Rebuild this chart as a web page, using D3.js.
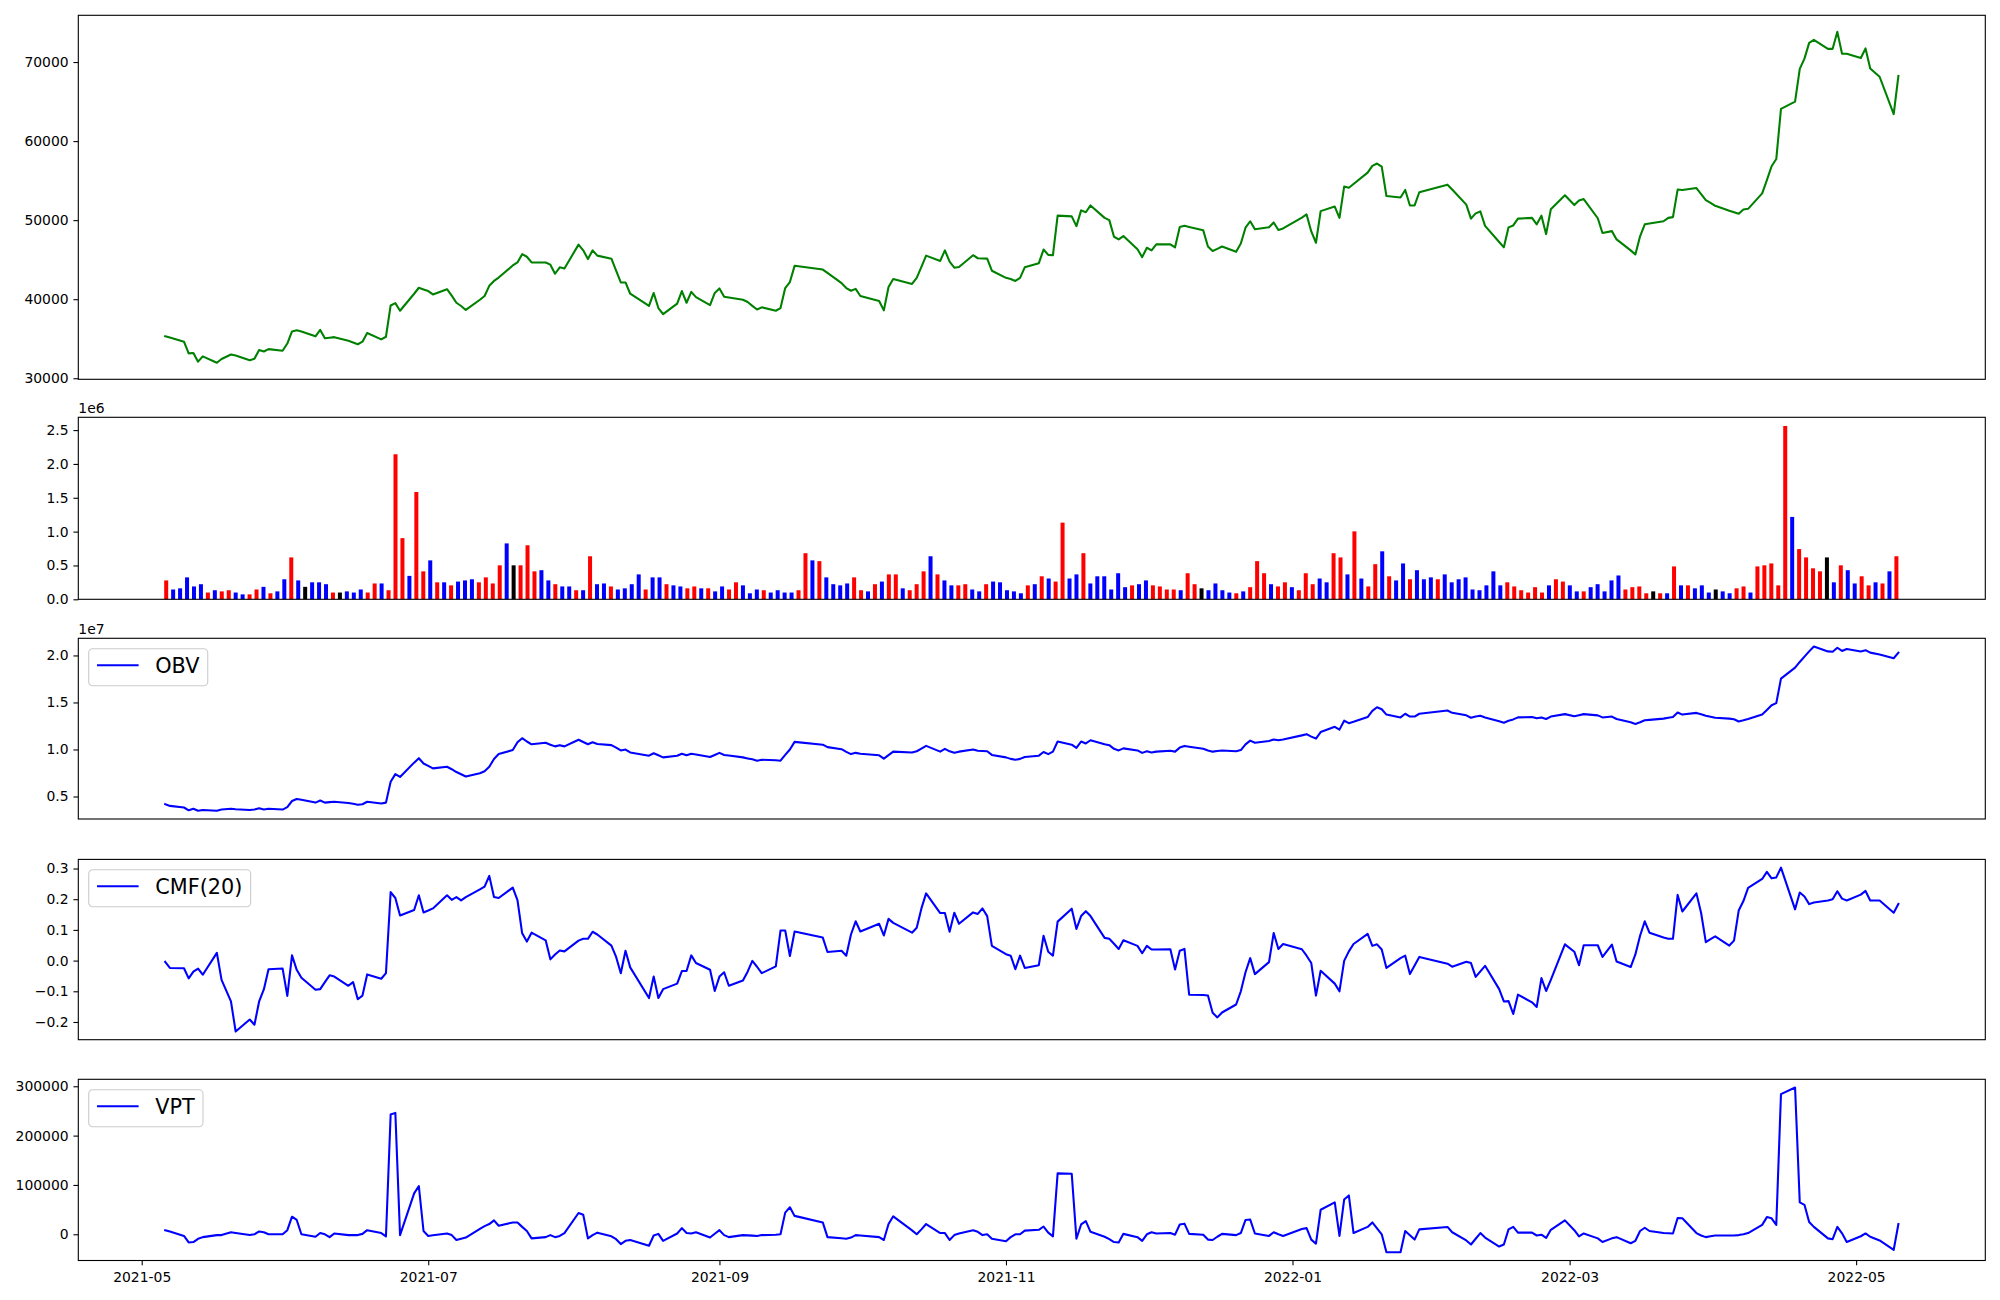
<!DOCTYPE html>
<html><head><meta charset="utf-8">
<script src="https://cdn.jsdelivr.net/npm/d3@7"></script>
<style>
body{margin:0;background:#fff}
svg{display:block}
text{font-family:"DejaVu Sans",sans-serif}
</style>
</head><body>
<svg id="chart" width="2000" height="1300"></svg>
<script>
// ---------------- DATA ----------------
const dates = [
"2021-05-06","2021-05-07","2021-05-10","2021-05-11","2021-05-12","2021-05-13","2021-05-14","2021-05-17","2021-05-18","2021-05-20","2021-05-21","2021-05-24","2021-05-25","2021-05-26","2021-05-27","2021-05-28","2021-05-31",
"2021-06-01","2021-06-02","2021-06-03","2021-06-04","2021-06-07","2021-06-08","2021-06-09","2021-06-10","2021-06-11","2021-06-14","2021-06-15","2021-06-16","2021-06-17","2021-06-18","2021-06-21","2021-06-22","2021-06-23","2021-06-24","2021-06-25","2021-06-28","2021-06-29","2021-06-30",
"2021-07-01","2021-07-02","2021-07-05","2021-07-06","2021-07-07","2021-07-08","2021-07-09","2021-07-12","2021-07-13","2021-07-14","2021-07-15","2021-07-16","2021-07-19","2021-07-20","2021-07-21","2021-07-22","2021-07-23","2021-07-26","2021-07-27","2021-07-28","2021-07-29","2021-07-30",
"2021-08-02","2021-08-03","2021-08-04","2021-08-05","2021-08-06","2021-08-09","2021-08-10","2021-08-11","2021-08-12","2021-08-13","2021-08-17","2021-08-18","2021-08-19","2021-08-20","2021-08-23","2021-08-24","2021-08-25","2021-08-26","2021-08-27","2021-08-30","2021-08-31",
"2021-09-01","2021-09-02","2021-09-03","2021-09-06","2021-09-07","2021-09-08","2021-09-09","2021-09-10","2021-09-13","2021-09-14","2021-09-15","2021-09-16","2021-09-17","2021-09-23","2021-09-24","2021-09-27","2021-09-28","2021-09-29","2021-09-30",
"2021-10-01","2021-10-05","2021-10-06","2021-10-07","2021-10-08","2021-10-12","2021-10-13","2021-10-14","2021-10-15","2021-10-18","2021-10-19","2021-10-20","2021-10-21","2021-10-22","2021-10-25","2021-10-26","2021-10-27","2021-10-28","2021-10-29",
"2021-11-01","2021-11-02","2021-11-03","2021-11-04","2021-11-05","2021-11-08","2021-11-09","2021-11-10","2021-11-11","2021-11-12","2021-11-15","2021-11-16","2021-11-17","2021-11-18","2021-11-19","2021-11-22","2021-11-23","2021-11-24","2021-11-25","2021-11-26","2021-11-29","2021-11-30",
"2021-12-01","2021-12-02","2021-12-03","2021-12-06","2021-12-07","2021-12-08","2021-12-09","2021-12-10","2021-12-13","2021-12-14","2021-12-15","2021-12-16","2021-12-17","2021-12-20","2021-12-21","2021-12-22","2021-12-23","2021-12-24","2021-12-27","2021-12-28","2021-12-29","2021-12-30",
"2022-01-03","2022-01-04","2022-01-05","2022-01-06","2022-01-07","2022-01-10","2022-01-11","2022-01-12","2022-01-13","2022-01-14","2022-01-17","2022-01-18","2022-01-19","2022-01-20","2022-01-21","2022-01-24","2022-01-25","2022-01-26","2022-01-27","2022-01-28",
"2022-02-03","2022-02-04","2022-02-07","2022-02-08","2022-02-09","2022-02-10","2022-02-11","2022-02-14","2022-02-15","2022-02-16","2022-02-17","2022-02-18","2022-02-21","2022-02-22","2022-02-23","2022-02-24","2022-02-25","2022-02-28",
"2022-03-02","2022-03-03","2022-03-04","2022-03-07","2022-03-08","2022-03-10","2022-03-11","2022-03-14","2022-03-15","2022-03-16","2022-03-17","2022-03-18","2022-03-21","2022-03-22","2022-03-23","2022-03-24","2022-03-25","2022-03-28","2022-03-29","2022-03-30","2022-03-31",
"2022-04-01","2022-04-04","2022-04-05","2022-04-06","2022-04-07","2022-04-08","2022-04-11","2022-04-12","2022-04-13","2022-04-14","2022-04-15","2022-04-18","2022-04-19","2022-04-20","2022-04-21","2022-04-22","2022-04-25","2022-04-26","2022-04-27","2022-04-28","2022-04-29",
"2022-05-02","2022-05-03","2022-05-04","2022-05-06","2022-05-09","2022-05-10"
];

const close = [
35300,35150,34630,33150,33200,32100,32770,31960,32430,33010,32870,32290,32480,33580,33390,33680,33480,
34390,35920,36060,35920,35300,36110,35060,35130,35200,34730,34530,34300,34630,35730,34920,35250,39210,39500,38540,40690,41450,41240,
41030,40600,41260,40450,39550,39140,38640,39930,40410,41690,42310,42740,44270,44650,45700,45370,44650,44650,44370,43220,44030,43890,
46900,46180,45080,46180,45510,45130,43600,42120,42120,40690,39160,40790,38880,38110,39450,41030,39550,40930,40260,39260,40790,
41360,40310,40210,39930,39640,39160,38690,38970,38540,38880,41410,42170,44220,43750,43320,42030,41410,41070,41310,
40410,39780,38590,41550,42550,41930,42700,44080,45510,44840,46180,44750,43990,44080,45560,45180,45150,45130,43600,
42700,42550,42310,42700,44030,44560,46280,45610,45560,50570,50480,49240,51240,51000,51860,50290,50000,47900,47570,47990,46320,45320,
46510,46180,46940,46940,46560,49140,49280,49140,48710,46660,46090,46370,46660,45990,47040,49040,49860,48850,49090,49710,48760,48950,
50330,50720,48570,47140,51140,51720,50290,54250,54100,54580,56010,56870,57160,56780,53050,52860,53820,51860,51860,53530,
54490,53880,51960,50190,50860,51100,49280,47230,46560,49090,49330,50190,50290,49470,50570,48230,51380,53150,
51910,52480,52670,50240,48380,48610,47560,46180,45660,47950,49470,49570,49860,50290,50380,53870,53820,54060,53290,52530,52190,
51810,51190,51000,50810,51340,51430,53390,55060,56820,57730,64080,64990,69140,70430,72430,72810,71670,71670,73820,71050,71050,
70520,71720,69190,68140,63410,68240
];

const volume = [
279000,145000,162000,324000,190000,223000,100000,134000,117000,134000,100000,73000,73000,145000,184000,89000,117000,296000,619000,279000,
184000,251000,251000,223000,100000,100000,117000,100000,145000,100000,234000,234000,134000,2143000,904000,346000,1585000,413000,575000,251000,
251000,206000,262000,279000,296000,251000,324000,234000,502000,826000,502000,502000,798000,413000,430000,279000,
223000,190000,190000,134000,134000,636000,223000,234000,190000,145000,162000,223000,368000,145000,324000,324000,223000,206000,190000,162000,
190000,162000,162000,117000,190000,145000,251000,206000,89000,145000,134000,100000,134000,100000,100000,134000,681000,575000,564000,324000,
223000,206000,234000,324000,134000,117000,223000,262000,368000,368000,162000,134000,223000,413000,636000,368000,279000,206000,206000,223000,
145000,117000,223000,262000,251000,134000,117000,89000,206000,223000,340000,307000,
262000,1133000,307000,368000,681000,234000,340000,340000,145000,385000,179000,206000,223000,279000,206000,190000,145000,145000,134000,385000,
223000,162000,134000,234000,134000,100000,89000,117000,179000,564000,385000,223000,190000,251000,179000,134000,385000,223000,307000,251000,
681000,619000,368000,1004000,307000,190000,519000,709000,340000,279000,530000,296000,430000,296000,324000,296000,368000,251000,296000,324000,
145000,134000,206000,413000,206000,251000,190000,134000,100000,
179000,100000,206000,296000,262000,206000,117000,117000,179000,223000,117000,279000,352000,145000,179000,190000,89000,117000,89000,89000,
486000,206000,206000,162000,206000,100000,145000,117000,89000,162000,190000,100000,486000,502000,530000,206000,2561000,1217000,742000,619000,
458000,413000,619000,251000,502000,430000,234000,340000,206000,251000,234000,413000,636000
];

// 1 = up day (red), -1 = down day (blue), 0 = unchanged (black)
const direction = [
1,-1,-1,-1,-1,-1,1,-1,1,1,-1,-1,1,1,-1,1,-1,-1,1,-1,
0,-1,-1,-1,1,0,-1,-1,-1,1,1,-1,1,1,1,-1,1,1,-1,1,
-1,1,-1,-1,-1,1,1,1,1,-1,0,1,1,1,-1,-1,
1,-1,-1,1,-1,1,-1,-1,1,-1,-1,-1,-1,1,-1,-1,1,-1,-1,1,
1,-1,1,-1,-1,1,1,-1,-1,-1,1,-1,-1,-1,-1,1,1,-1,1,-1,
-1,-1,-1,1,1,-1,1,-1,1,1,-1,1,1,1,-1,1,-1,-1,1,1,
-1,-1,1,-1,-1,-1,-1,-1,1,-1,1,-1,
1,1,-1,-1,1,-1,-1,-1,-1,-1,-1,1,-1,-1,1,1,1,1,-1,1,
1,0,-1,-1,-1,-1,1,-1,1,1,1,-1,1,1,-1,1,1,1,-1,-1,
1,1,-1,1,-1,1,1,-1,1,-1,-1,1,-1,-1,-1,1,-1,-1,-1,-1,
-1,-1,-1,-1,-1,1,1,1,1,
1,1,-1,1,1,-1,-1,1,-1,-1,-1,-1,-1,1,1,1,1,0,1,-1,
1,-1,1,-1,-1,-1,0,-1,-1,1,1,-1,1,1,1,1,1,-1,1,1,
1,1,0,-1,1,-1,-1,1,1,-1,1,-1,1
];

const obv = [
4180000,4000000,3830000,3530000,3700000,3480000,3570000,3480000,3610000,3700000,3650000,3570000,3610000,3740000,3610000,3700000,3610000,3870000,4520000,4740000,
4660000,4350000,4570000,4350000,4400000,4440000,4310000,4220000,4130000,4180000,4440000,4260000,4350000,6560000,7380000,7080000,8600000,9070000,8510000,8250000,
7990000,8160000,7900000,7600000,7360000,7120000,7470000,7690000,8160000,8990000,9510000,9940000,10770000,11200000,10850000,10550000,10720000,10510000,10330000,10460000,10330000,
11030000,10790000,10550000,10770000,10590000,10460000,10200000,9900000,9990000,9680000,9340000,9600000,9380000,9160000,9340000,9550000,9380000,9550000,9470000,9200000,
9420000,9640000,9420000,9360000,9160000,9050000,8950000,8810000,8900000,8850000,8810000,9420000,10000000,10810000,10510000,10250000,10030000,9750000,9510000,9640000,
9550000,9380000,9030000,9400000,9770000,9680000,9810000,10100000,10380000,9770000,10070000,9800000,9640000,9770000,9990000,9860000,9840000,9810000,9420000,9160000,
9000000,8900000,9000000,9200000,9340000,9730000,9510000,
9770000,10850000,10510000,10160000,10850000,10640000,10980000,10550000,10460000,10070000,9900000,10120000,9900000,9640000,9810000,9680000,9770000,9860000,9770000,10200000,
10380000,10300000,10070000,9900000,9770000,9840000,9900000,9810000,9940000,10550000,10940000,10720000,10900000,11070000,10980000,11070000,11500000,11630000,11370000,11160000,
11850000,12410000,12110000,13060000,12800000,12950000,13450000,14100000,14490000,14280000,13710000,13410000,13800000,13500000,13500000,13800000,14150000,13900000,13630000,13370000,
13500000,13580000,13400000,13000000,12850000,13060000,13200000,13410000,13450000,
13320000,13410000,13240000,13500000,13760000,13540000,13650000,13760000,13630000,13410000,13500000,13240000,12900000,12720000,12900000,13110000,13150000,13280000,13370000,13450000,
13930000,13710000,13890000,13750000,13580000,13480000,13370000,13280000,13220000,12980000,13100000,13240000,13710000,14200000,14710000,14930000,17530000,18700000,19310000,19870000,
20430000,20950000,20430000,20390000,20820000,20480000,20690000,20430000,20560000,20300000,20090000,19700000,20300000
];

const cmf = [
-0.004,-0.024,-0.025,-0.058,-0.036,-0.026,-0.046,0.025,-0.063,-0.133,-0.231,-0.192,-0.209,-0.133,-0.094,-0.028,-0.026,-0.115,0.017,-0.030,
-0.056,-0.095,-0.093,-0.070,-0.048,-0.052,-0.082,-0.070,-0.126,-0.114,-0.045,-0.059,-0.041,0.223,0.204,0.147,0.165,0.213,0.157,0.163,
0.170,0.213,0.198,0.207,0.196,0.207,0.232,0.241,0.276,0.207,0.204,0.238,0.197,0.089,0.062,0.091,0.066,0.004,0.020,0.033,0.030,
0.065,0.071,0.071,0.094,0.085,0.049,0.012,-0.041,0.032,-0.022,-0.122,-0.052,-0.122,-0.093,-0.075,-0.034,-0.034,0.017,-0.008,-0.030,
-0.099,-0.052,-0.038,-0.082,-0.065,-0.036,-0.001,-0.020,-0.041,-0.019,0.098,0.098,0.015,0.095,0.075,0.028,0.032,0.016,0.085,0.128,
0.095,0.120,0.082,0.136,0.123,0.091,0.107,0.170,0.219,0.155,0.155,0.094,0.156,0.120,0.157,0.152,0.170,0.145,0.048,0.021,
0.016,-0.028,0.016,-0.024,-0.015,0.081,0.029,
0.016,0.127,0.169,0.103,0.145,0.161,0.145,0.074,0.071,0.055,0.038,0.066,0.048,0.024,0.048,0.036,0.036,0.037,-0.029,0.032,
0.038,-0.111,-0.112,-0.114,-0.170,-0.185,-0.169,-0.143,-0.100,-0.038,0.008,-0.044,-0.005,0.090,0.038,0.054,0.037,0.016,-0.008,-0.114,
-0.033,-0.075,-0.100,-0.001,0.030,0.054,0.087,0.048,0.053,0.036,-0.024,0.008,0.016,-0.044,-0.016,0.012,-0.010,-0.020,-0.004,-0.008,
-0.053,-0.035,-0.017,-0.093,-0.133,-0.132,-0.174,-0.111,-0.136,
-0.151,-0.057,-0.099,-0.063,0.053,0.029,-0.015,0.050,0.050,0.012,0.052,-0.003,-0.021,0.020,0.081,0.128,0.091,0.075,0.071,0.071,
0.214,0.160,0.219,0.155,0.060,0.070,0.079,0.049,0.065,0.163,0.194,0.237,0.266,0.289,0.268,0.271,0.303,0.167,0.222,0.209,
0.184,0.189,0.196,0.200,0.226,0.202,0.196,0.215,0.227,0.196,0.196,0.156,0.185
];

const vpt = [
8285,5400,-3314,-16570,-15740,-9114,-5800,-1657,-1657,4143,2700,-1657,0,5800,4143,0,0,8285,35626,29000,
0,-4971,2486,0,-5800,1657,-1657,-1657,-1657,828,8285,2486,-4143,242750,246065,-1657,82850,97763,6628,-3314,
-2000,1657,-1657,-11600,-9000,-6628,11000,16570,20713,28169,17400,24027,24027,15000,6628,-8285,-5800,-1657,-5800,-3314,2486,
43082,39768,-8285,-1657,3314,-4143,-9942,-19884,-13256,-11600,-23198,-2486,828,-13256,1657,12428,2486,1657,4143,-6628,
1000,8285,-1657,-5800,-1657,-2200,-2800,-3314,-1657,-800,0,43911,54681,37283,24027,-5800,-8000,-9114,-6628,-1657,
-2500,-5800,-11600,20713,36454,8000,0,10000,20713,2486,2486,-11600,-1657,1657,8285,4971,-1657,0,-9114,-14085,
-5800,0,0,7457,9114,15742,3314,
-4143,123446,122618,-9114,19884,26512,4971,-4971,-9942,-15742,-16570,828,-5800,-13256,0,4143,1657,2486,-828,19884,
21541,828,-828,-10770,-11600,-5000,828,-1657,2486,28998,29826,1657,-3314,4143,0,-3314,10770,12428,-10770,-19056,
49710,64623,-3314,70423,78708,2486,14913,24027,12000,0,-36454,-36454,6628,-2000,-10770,9942,14913,4143,-12428,-20713,
-9000,2486,-6628,-24855,-20713,9942,14913,3314,3314,
-2486,-828,-7457,9114,28169,8285,-4143,1657,-8285,-15742,-8285,-5800,-18227,-13256,6628,13256,6628,2486,2000,1657,
33140,32312,2486,-2486,-5800,-4000,-2486,-2486,-2486,-1657,0,2486,19056,34797,32312,19056,284176,297432,64623,59652,
24855,15000,-8285,-9942,14913,2000,-15742,-4000,1657,-4971,-12428,-31483,20713
];

// tick labels
const xTickLabels = ["2021-05","2021-07","2021-09","2021-11","2022-01","2022-03","2022-05"];
const priceTicks = [30000,40000,50000,60000,70000];
const volumeTicks = [0,500000,1000000,1500000,2000000,2500000];
const obvTicks = [5000000,10000000,15000000,20000000];
const cmfTicks = [-0.2,-0.1,0.0,0.1,0.2,0.3];
const vptTicks = [0,100000,200000,300000];

// ---------------- DRAW ----------------
const svg = d3.select("#chart");
const parse = d3.utcParse("%Y-%m-%d");
const dt = dates.map(parse);
const X0 = 78.3, X1 = 1985.3;
const TICK_FS = 13.9, TICK_LEN = 4.86, TICK_PAD = 4.86;

const x = d3.scaleUtc()
  .domain([new Date(Date.UTC(2021,3,17,12)), new Date(Date.UTC(2022,4,28,12))])
  .range([X0, X1]);

const panels = {
  price: [15.3, 379.3],
  vol:   [417.3, 599.3],
  obv:   [638.3, 819.0],
  cmf:   [859.4, 1039.7],
  vpt:   [1079.3, 1260.5]
};

function padded(vals, frac=0.05){
  const mn = d3.min(vals), mx = d3.max(vals), p = (mx-mn)*frac;
  return [mn-p, mx+p];
}

function frame(top, bottom){
  svg.append("rect").attr("x",X0).attr("y",top).attr("width",X1-X0).attr("height",bottom-top)
    .attr("fill","none").attr("stroke","#000").attr("stroke-width",1.1);
}

function yAxis(y, ticks, fmt){
  const g = svg.append("g").attr("transform",`translate(${X0},0)`)
    .call(d3.axisLeft(y).tickValues(ticks).tickFormat(fmt).tickSize(TICK_LEN).tickPadding(TICK_PAD));
  g.select(".domain").remove();
  g.selectAll(".tick line").attr("stroke","#000").attr("stroke-width",1.1);
  g.selectAll(".tick text").attr("font-size",TICK_FS).attr("font-family","DejaVu Sans").attr("fill","#000");
  return g;
}

function offsetText(top, label){
  svg.append("text").attr("x",X0).attr("y",top-4).attr("font-size",TICK_FS).attr("fill","#000").text(label);
}

function legend(top, label){
  const fs = 20.8;
  const g = svg.append("g").attr("transform",`translate(${X0+10.4},${top+10.4})`);
  const rect = g.append("rect");
  const tx = 8.3+41.6+16.6;
  const t = g.append("text").attr("x",tx).attr("y",24).attr("font-size",fs).attr("fill","#000").text(label);
  const w = t.node().getComputedTextLength();
  rect.attr("x",0).attr("y",0).attr("width",tx+w+8.3).attr("height",37).attr("rx",4)
    .attr("fill","#fff").attr("fill-opacity",0.8).attr("stroke","#cccccc").attr("stroke-width",1.1);
  g.append("line").attr("x1",8.3).attr("x2",8.3+41.6).attr("y1",16.5).attr("y2",16.5)
    .attr("stroke","#0000ff").attr("stroke-width",2.08);
}

function linePanel(key, values, domain, color){
  const [top,bottom] = panels[key];
  const y = d3.scaleLinear().domain(domain).range([bottom, top]);
  svg.append("path").datum(values)
    .attr("d", d3.line().x((d,i)=>x(dt[i])).y(d=>y(d)))
    .attr("fill","none").attr("stroke",color).attr("stroke-width",2.08)
    .attr("stroke-linejoin","round").attr("stroke-linecap","square");
  return y;
}

// Panel 1: price
{
  const y = linePanel("price", close, padded(close), "#008000");
  frame(...panels.price);
  yAxis(y, priceTicks, d3.format("d"));
}

// Panel 2: volume bars
{
  const [top,bottom] = panels.vol;
  const y = d3.scaleLinear().domain([0, d3.max(volume)*1.05]).range([bottom, top]);
  const xi = d3.scaleLinear().domain([0, volume.length-1]).range([x(dt[0])+1, x(dt[dt.length-1])-2]);
  const col = d => d > 0 ? "#ff0000" : (d < 0 ? "#0000ff" : "#000000");
  svg.append("g").selectAll("rect").data(volume).join("rect")
    .attr("x",(d,i)=>xi(i)-2).attr("width",4)
    .attr("y",d=>y(d)).attr("height",d=>bottom-y(d))
    .attr("fill",(d,i)=>col(direction[i]));
  frame(top,bottom);
  yAxis(y, volumeTicks, d=>d3.format(".1f")(d/1e6));
  offsetText(top, "1e6");
}

// Panel 3: OBV
{
  const y = linePanel("obv", obv, padded(obv), "#0000ff");
  frame(...panels.obv);
  yAxis(y, obvTicks, d=>d3.format(".1f")(d/1e7));
  offsetText(panels.obv[0], "1e7");
  legend(panels.obv[0], "OBV");
}

// Panel 4: CMF
{
  const y = linePanel("cmf", cmf, padded(cmf), "#0000ff");
  frame(...panels.cmf);
  yAxis(y, cmfTicks, d3.format(".1f"));
  legend(panels.cmf[0], "CMF(20)");
}

// Panel 5: VPT
{
  const y = linePanel("vpt", vpt, padded(vpt), "#0000ff");
  frame(...panels.vpt);
  yAxis(y, vptTicks, d3.format("d"));
  legend(panels.vpt[0], "VPT");
  const tickDates = xTickLabels.map(s => d3.utcParse("%Y-%m")(s));
  const g = svg.append("g").attr("transform",`translate(0,${panels.vpt[1]})`)
    .call(d3.axisBottom(x).tickValues(tickDates).tickFormat(d3.utcFormat("%Y-%m")).tickSize(TICK_LEN).tickPadding(TICK_PAD+1.5));
  g.select(".domain").remove();
  g.selectAll(".tick line").attr("stroke","#000").attr("stroke-width",1.1);
  g.selectAll(".tick text").attr("font-size",TICK_FS).attr("font-family","DejaVu Sans").attr("fill","#000");
}
</script>
</body></html>
